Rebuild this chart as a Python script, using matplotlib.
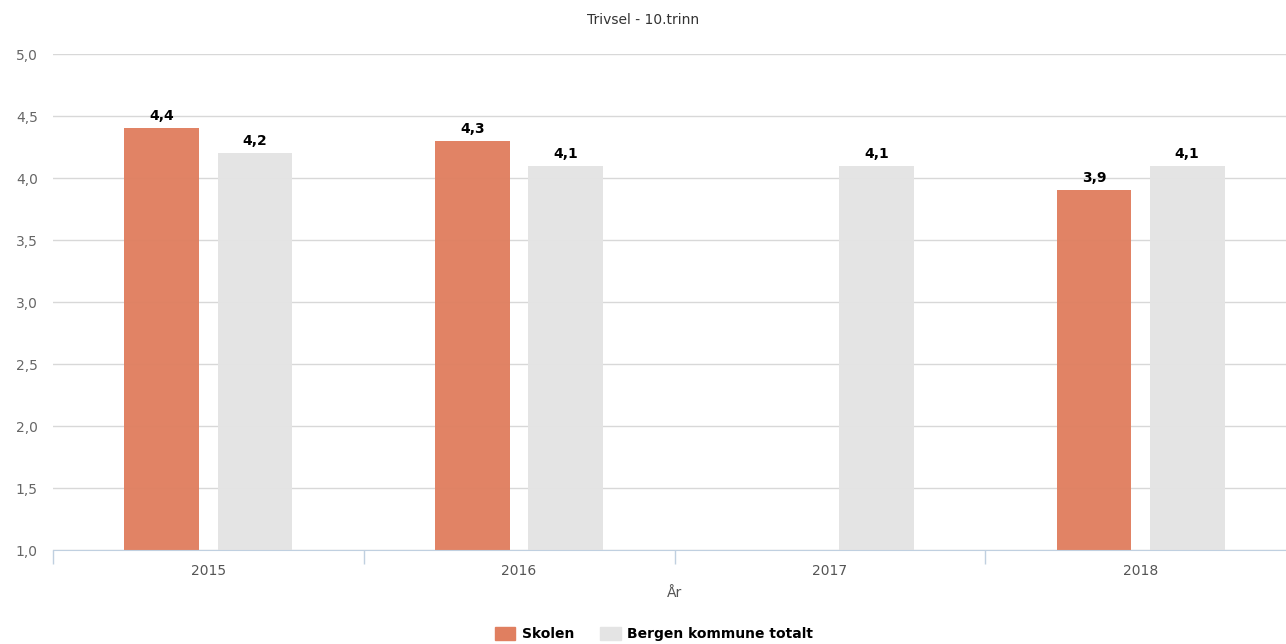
import numpy as np
import matplotlib.pyplot as plt
from matplotlib.patches import Patch

# Data
years = ['2015', '2016', '2017', '2018']
skolen = [4.4, 4.3, np.nan, 3.9]
bergen = [4.2, 4.1, 4.1, 4.1]
yticks = [1.0, 1.5, 2.0, 2.5, 3.0, 3.5, 4.0, 4.5, 5.0]

orange = '#e07f60'
grey = '#e4e4e4'

fig = plt.figure(figsize=(12.86, 6.44), dpi=100)
ax = fig.add_axes([53 / 1286, 1 - 550 / 644, 1243 / 1286, 496 / 644])

x = np.arange(len(years))
w = 0.241
off = 0.150
ax.bar(x - off, skolen, width=w, bottom=0, color=orange, alpha=0.97, zorder=3)
ax.bar(x + off, bergen, width=w, bottom=0, color=grey, alpha=0.97, zorder=3)

for xi, v in zip(x, skolen):
    if not np.isnan(v):
        ax.text(xi - off, v + 0.04, f'{v:.1f}'.replace('.', ','), ha='center', va='bottom',
                fontsize=10, fontweight='bold', color='black', zorder=4)
for xi, v in zip(x, bergen):
    ax.text(xi + off, v + 0.04, f'{v:.1f}'.replace('.', ','), ha='center', va='bottom',
            fontsize=10, fontweight='bold', color='black', zorder=4)

ax.set_xlim(-0.5, len(years) - 0.5)
ax.set_ylim(1.0, 5.0)
ax.set_yticks(yticks)
ax.set_yticklabels([f'{t:.1f}'.replace('.', ',') for t in yticks])
ax.yaxis.grid(True, color='#d8d8d8', linewidth=1)
ax.set_axisbelow(True)

ax.set_xticks(x)
ax.set_xticklabels(years)
ax.set_xticks(np.arange(-0.5, len(years)), minor=True)
ax.tick_params(axis='x', which='major', length=0, pad=10, labelsize=10, labelcolor='#555555')
ax.tick_params(axis='x', which='minor', length=10, color='#c0d0e0', width=1)
ax.tick_params(axis='y', length=0, pad=11, labelsize=10, labelcolor='#666666')

for s in ['top', 'right', 'left']:
    ax.spines[s].set_visible(False)
ax.spines['bottom'].set_color('#c0d0e0')
ax.spines['bottom'].set_zorder(5)

ax.set_xlabel('År', fontsize=10, color='#555555', labelpad=6)
fig.suptitle('Trivsel - 10.trinn', y=1 - 20 / 644, va='center', fontsize=10, color='#333333')

handles = [Patch(color=orange, label='Skolen'), Patch(color=grey, label='Bergen kommune totalt')]
leg = fig.legend(handles=handles, loc='center', bbox_to_anchor=(654 / 1286, 1 - 634 / 644),
                 ncol=2, frameon=False, handlelength=1.5, handleheight=1.1,
                 columnspacing=1.8, handletextpad=0.5,
                 prop={'weight': 'bold', 'size': 10})

fig.savefig('out.png', dpi=100)
